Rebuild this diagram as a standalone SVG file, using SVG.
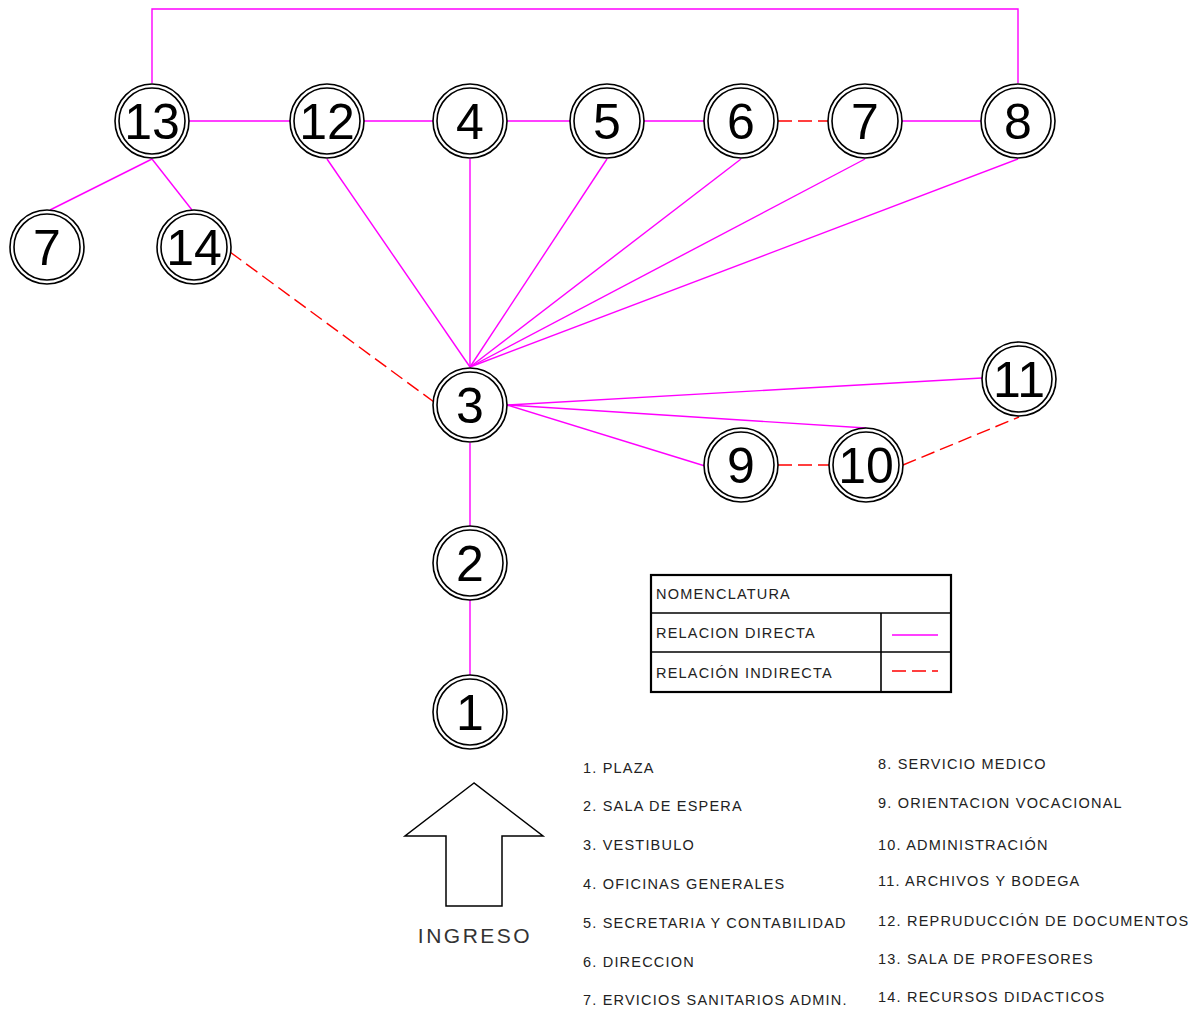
<svg xmlns="http://www.w3.org/2000/svg" width="1193" height="1011" viewBox="0 0 1193 1011">
<style>
.o{fill:#fff;stroke:#000;stroke-width:1.6}
.i{fill:none;stroke:#000;stroke-width:1.6}
.n{font-family:"Liberation Sans",Arial,sans-serif;font-size:50px;fill:#000;text-anchor:middle}
.d{stroke:#ff00ff;stroke-width:1.4;fill:none}
.r{stroke:#ff0000;stroke-width:1.4;fill:none;stroke-dasharray:14,6}
.t{font-family:"Liberation Sans",Arial,sans-serif;font-size:14.5px;fill:#222;letter-spacing:1.2px}
</style>
<rect width="1193" height="1011" fill="#fff"/>
<g id="connectors">
<polyline class="d" points="152,83 152,9 1018,9 1018,83"/>
<line class="d" x1="189" y1="121" x2="290" y2="121"/>
<line class="d" x1="364" y1="121" x2="433" y2="121"/>
<line class="d" x1="507" y1="121" x2="570" y2="121"/>
<line class="d" x1="644" y1="121" x2="704" y2="121"/>
<line class="r" x1="778" y1="121" x2="828" y2="121"/>
<line class="d" x1="902" y1="121" x2="981" y2="121"/>
<line class="d" x1="152" y1="159" x2="50" y2="210"/>
<line class="d" x1="152" y1="159" x2="192" y2="210"/>
<line class="r" x1="230" y1="252" x2="434" y2="402"/>
<line class="d" x1="327" y1="159" x2="470" y2="367"/>
<line class="d" x1="470" y1="159" x2="470" y2="367"/>
<line class="d" x1="607" y1="159" x2="470" y2="367"/>
<line class="d" x1="741" y1="159" x2="470" y2="367"/>
<line class="d" x1="865" y1="159" x2="470" y2="367"/>
<line class="d" x1="1018" y1="159" x2="470" y2="367"/>
<line class="d" x1="507" y1="405" x2="982" y2="378"/>
<line class="d" x1="507" y1="405" x2="866" y2="428"/>
<line class="d" x1="507" y1="405" x2="705" y2="466"/>
<line class="r" x1="778" y1="465" x2="829" y2="465"/>
<line class="r" x1="903" y1="465" x2="1019" y2="417"/>
<line class="d" x1="470" y1="443" x2="470" y2="526"/>
<line class="d" x1="470" y1="600" x2="470" y2="675"/>
</g>
<g id="n13"><circle class="o" cx="152" cy="121" r="37"/><circle class="i" cx="152" cy="121" r="33"/><text class="n" x="152" y="139">13</text></g>
<g id="n12"><circle class="o" cx="327" cy="121" r="37"/><circle class="i" cx="327" cy="121" r="33"/><text class="n" x="327" y="139">12</text></g>
<g id="n4"><circle class="o" cx="470" cy="121" r="37"/><circle class="i" cx="470" cy="121" r="33"/><text class="n" x="470" y="139">4</text></g>
<g id="n5"><circle class="o" cx="607" cy="121" r="37"/><circle class="i" cx="607" cy="121" r="33"/><text class="n" x="607" y="139">5</text></g>
<g id="n6"><circle class="o" cx="741" cy="121" r="37"/><circle class="i" cx="741" cy="121" r="33"/><text class="n" x="741" y="139">6</text></g>
<g id="n7a"><circle class="o" cx="865" cy="121" r="37"/><circle class="i" cx="865" cy="121" r="33"/><text class="n" x="865" y="139">7</text></g>
<g id="n8"><circle class="o" cx="1018" cy="121" r="37"/><circle class="i" cx="1018" cy="121" r="33"/><text class="n" x="1018" y="139">8</text></g>
<g id="n7b"><circle class="o" cx="47" cy="247" r="37"/><circle class="i" cx="47" cy="247" r="33"/><text class="n" x="47" y="265">7</text></g>
<g id="n14"><circle class="o" cx="194" cy="247" r="37"/><circle class="i" cx="194" cy="247" r="33"/><text class="n" x="194" y="265">14</text></g>
<g id="n3"><circle class="o" cx="470" cy="405" r="37"/><circle class="i" cx="470" cy="405" r="33"/><text class="n" x="470" y="423">3</text></g>
<g id="n11"><circle class="o" cx="1019" cy="379" r="37"/><circle class="i" cx="1019" cy="379" r="33"/><text class="n" x="1019" y="397">11</text></g>
<g id="n9"><circle class="o" cx="741" cy="465" r="37"/><circle class="i" cx="741" cy="465" r="33"/><text class="n" x="741" y="483">9</text></g>
<g id="n10"><circle class="o" cx="866" cy="465" r="37"/><circle class="i" cx="866" cy="465" r="33"/><text class="n" x="866" y="483">10</text></g>
<g id="n2"><circle class="o" cx="470" cy="563" r="37"/><circle class="i" cx="470" cy="563" r="33"/><text class="n" x="470" y="581">2</text></g>
<g id="n1"><circle class="o" cx="470" cy="712" r="37"/><circle class="i" cx="470" cy="712" r="33"/><text class="n" x="470" y="730">1</text></g>
<g id="legend">
<rect x="651" y="575" width="300" height="117" fill="none" stroke="#000" stroke-width="2.2"/>
<line x1="651" y1="613" x2="951" y2="613" stroke="#000" stroke-width="1.6"/>
<line x1="651" y1="652" x2="951" y2="652" stroke="#000" stroke-width="1.6"/>
<line x1="881" y1="613" x2="881" y2="692" stroke="#000" stroke-width="1.6"/>
<text class="t" x="656" y="599">NOMENCLATURA</text>
<text class="t" x="656" y="638">RELACION DIRECTA</text>
<text class="t" x="656" y="678">RELACIÓN INDIRECTA</text>
<line class="d" x1="892" y1="635" x2="938" y2="635"/>
<line class="r" x1="892" y1="671" x2="938" y2="671" stroke-dasharray="19,8"/>
</g>
<g id="ingreso">
<polygon points="474,783 405,836 446,836 446,906 502,906 502,836 543,836" fill="none" stroke="#000" stroke-width="1.5"/>
<text x="475" y="943" text-anchor="middle" font-family="'Liberation Sans',Arial,sans-serif" font-size="21" letter-spacing="2.5" fill="#333">INGRESO</text>
</g>
<g id="lista">
<text class="t" x="583" y="773">1. PLAZA</text>
<text class="t" x="583" y="811">2. SALA DE ESPERA</text>
<text class="t" x="583" y="850">3. VESTIBULO</text>
<text class="t" x="583" y="889">4. OFICINAS GENERALES</text>
<text class="t" x="583" y="928">5. SECRETARIA Y CONTABILIDAD</text>
<text class="t" x="583" y="967">6. DIRECCION</text>
<text class="t" x="583" y="1005">7. ERVICIOS SANITARIOS ADMIN.</text>
<text class="t" x="878" y="769">8. SERVICIO MEDICO</text>
<text class="t" x="878" y="808">9. ORIENTACION VOCACIONAL</text>
<text class="t" x="878" y="850">10. ADMINISTRACIÓN</text>
<text class="t" x="878" y="886">11. ARCHIVOS Y BODEGA</text>
<text class="t" x="878" y="926">12. REPRUDUCCIÓN DE DOCUMENTOS</text>
<text class="t" x="878" y="964">13. SALA DE PROFESORES</text>
<text class="t" x="878" y="1002">14. RECURSOS DIDACTICOS</text>
</g>
</svg>
